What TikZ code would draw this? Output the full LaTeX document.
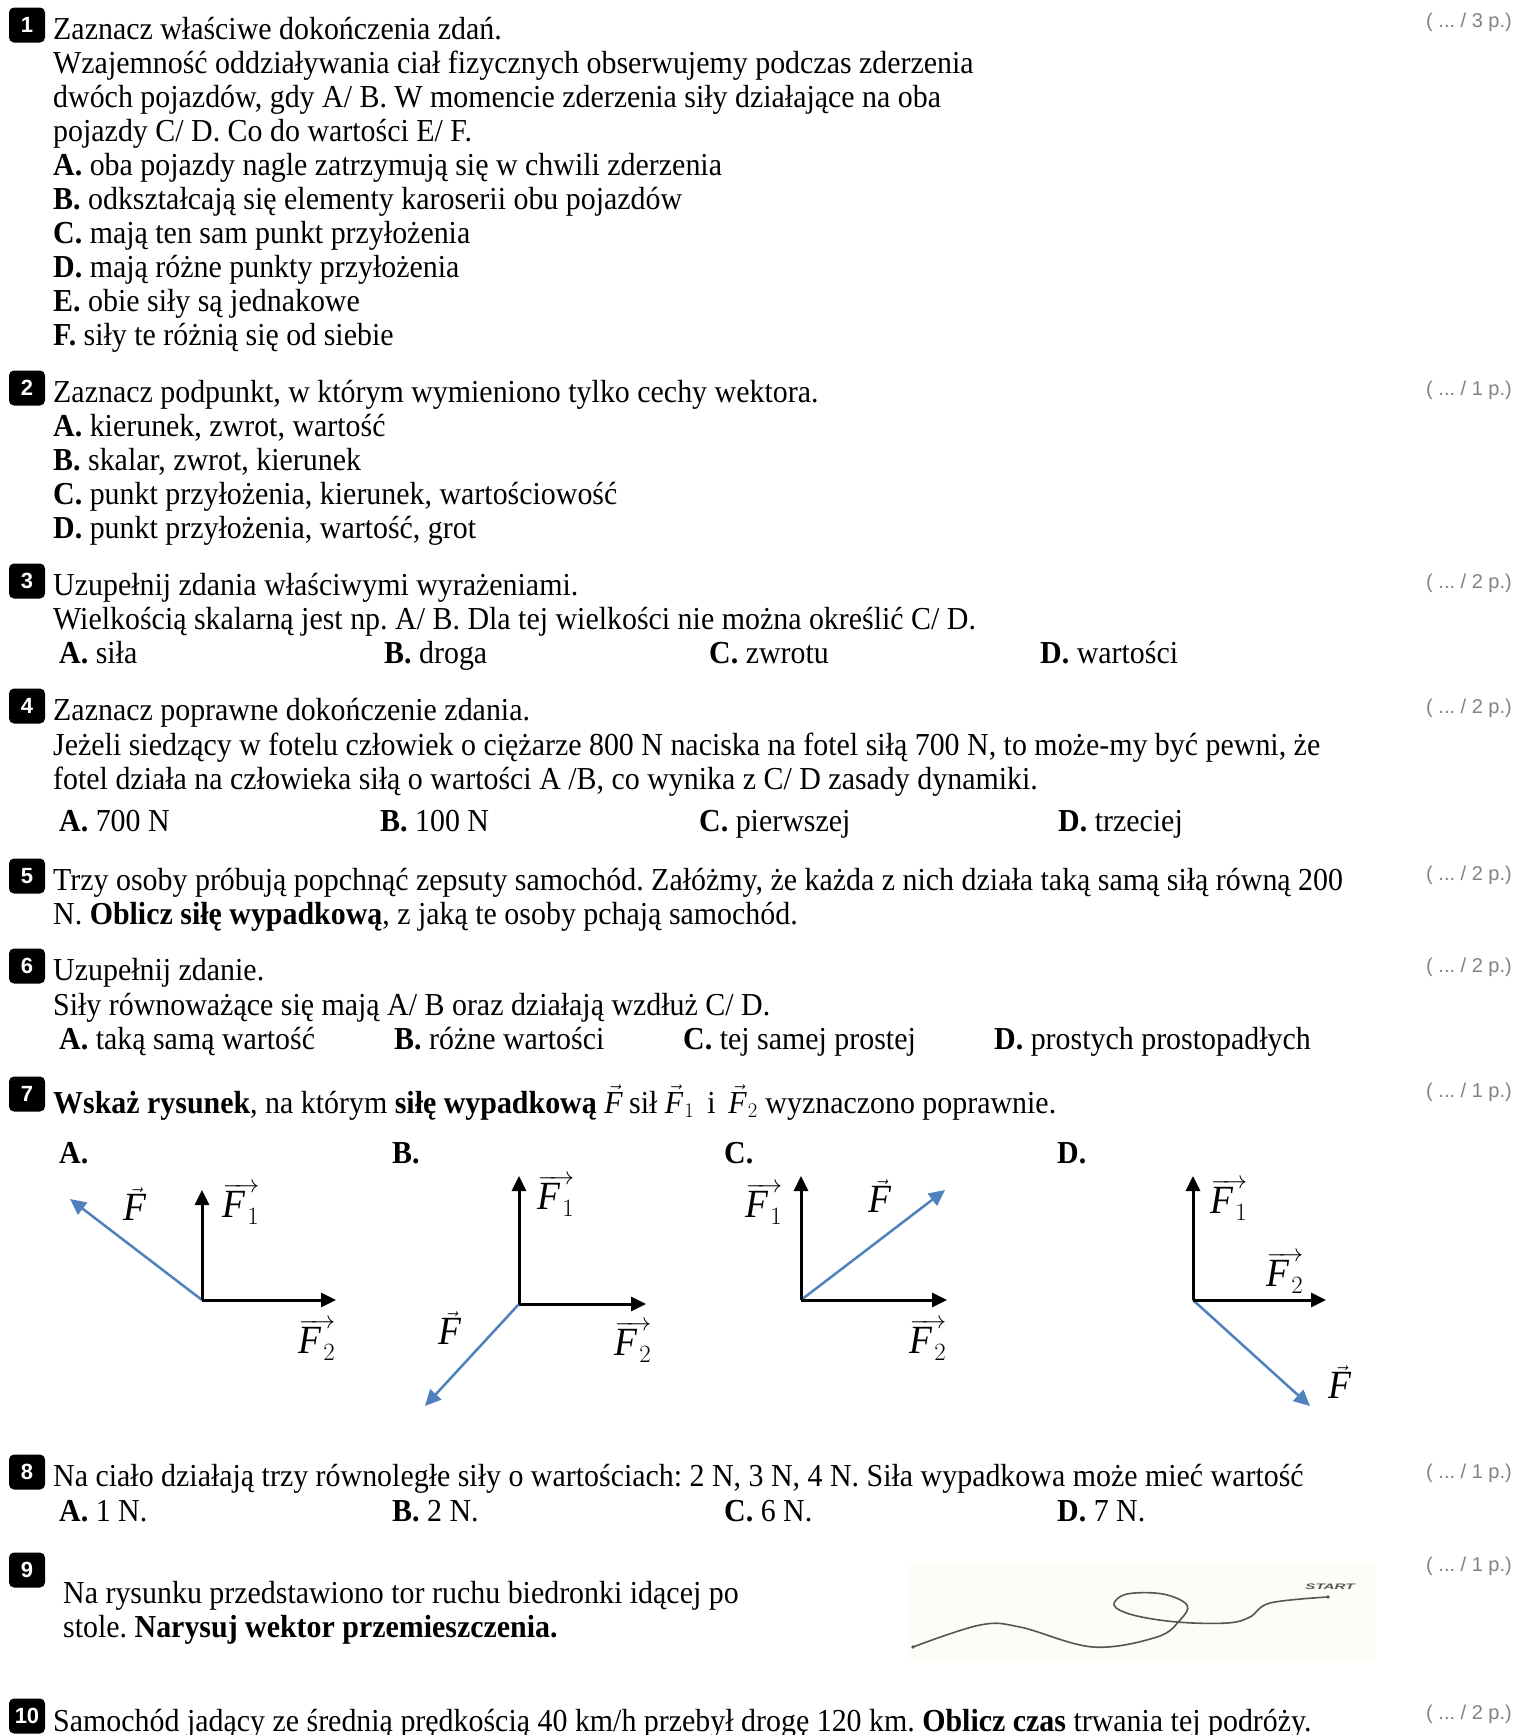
\documentclass[tikz,border=0pt]{standalone}
\usepackage{fontspec}
\setmainfont{Liberation Serif}[FakeStretch=0.935]
\newfontfamily\ptsfont{Liberation Sans}
\usetikzlibrary{arrows.meta}
\frenchspacing
\definecolor{vblue}{RGB}{79,129,189}
\definecolor{ptgray}{RGB}{130,130,130}
\definecolor{paper}{RGB}{253,253,247}
\definecolor{track}{RGB}{85,85,85}
\tikzset{
  txt/.style={anchor=base west, inner sep=0pt, font=\fontsize{32}{34}\selectfont},
  pts/.style={anchor=base east, inner sep=0pt, text=ptgray, font=\ptsfont\fontsize{20}{22}\selectfont},
  badge/.style={fill=black, rounded corners=5pt, minimum width=36pt, minimum height=35pt, inner sep=0pt, text=white, font=\ptsfont\bfseries\fontsize{22}{22}\selectfont},
  vblack/.style={line width=3pt, -{Triangle[length=15pt,width=14pt]}},
  vres/.style={line width=2.5pt, draw=vblue, -{Triangle[length=16pt,width=15pt,fill=vblue]}},
  vlab/.style={inner sep=0pt, font=\fontsize{40}{42}\selectfont},
}
\newcommand{\Fv}{\vec{\mathit{F}}}
\newcommand{\Fo}[1]{\overrightarrow{\mathit{F}_{#1}}}
\begin{document}
\frenchspacing
\begin{tikzpicture}[x=1pt,y=-1pt]
\useasboundingbox (0,0) rectangle (1516,1735);
\fill[white] (0,0) rectangle (1516,1735);

% ---------- Q1
\node[badge] (b1) at (27,25) {1};
\node[txt] (q1a) at (53,39) {Zaznacz właściwe dokończenia zdań.};
\node[txt] (q1b) at (53,73) {Wzajemność oddziaływania ciał fizycznych obserwujemy podczas zderzenia};
\node[txt] (q1c) at (53,107) {dwóch pojazdów, gdy A/ B. W momencie zderzenia siły działające na oba};
\node[txt] (q1d) at (53,141) {pojazdy C/ D. Co do wartości E/ F.};
\node[txt] (q1e) at (53,175) {\textbf{A.} oba pojazdy nagle zatrzymują się w chwili zderzenia};
\node[txt] (q1f) at (53,209) {\textbf{B.} odkształcają się elementy karoserii obu pojazdów};
\node[txt] (q1g) at (53,243) {\textbf{C.} mają ten sam punkt przyłożenia};
\node[txt] (q1h) at (53,277) {\textbf{D.} mają różne punkty przyłożenia};
\node[txt] (q1i) at (53,311) {\textbf{E.} obie siły są jednakowe};
\node[txt] (q1j) at (53,345) {\textbf{F.} siły te różnią się od siebie};
\node[pts] (p1) at (1512,27) {( ... / 3 p.)};

% ---------- Q2
\node[badge] (b2) at (27,388) {2};
\node[txt] (q2a) at (53,402) {Zaznacz podpunkt, w którym wymieniono tylko cechy wektora.};
\node[txt] (q2b) at (53,436) {\textbf{A.} kierunek, zwrot, wartość};
\node[txt] (q2c) at (53,470) {\textbf{B.} skalar, zwrot, kierunek};
\node[txt] (q2d) at (53,504) {\textbf{C.} punkt przyłożenia, kierunek, wartościowość};
\node[txt] (q2e) at (53,538) {\textbf{D.} punkt przyłożenia, wartość, grot};
\node[pts] (p2) at (1512,395) {( ... / 1 p.)};

% ---------- Q3
\node[badge] (b3) at (27,581) {3};
\node[txt] (q3a) at (53,595) {Uzupełnij zdania właściwymi wyrażeniami.};
\node[txt] (q3b) at (53,629) {Wielkością skalarną jest np. A/ B. Dla tej wielkości nie można określić C/ D.};
\node[txt] (q3A) at (59,663) {\textbf{A.} siła};
\node[txt] (q3B) at (384,663) {\textbf{B.} droga};
\node[txt] (q3C) at (709,663) {\textbf{C.} zwrotu};
\node[txt] (q3D) at (1040,663) {\textbf{D.} wartości};
\node[pts] (p3) at (1512,588) {( ... / 2 p.)};

% ---------- Q4
\node[badge] (b4) at (27,706) {4};
\node[txt] (q4a) at (53,720) {Zaznacz poprawne dokończenie zdania.};
\node[txt] (q4b) at (53,755) {Jeżeli siedzący w fotelu człowiek o ciężarze 800 N naciska na fotel siłą 700 N, to może-my być pewni, że};
\node[txt] (q4c) at (53,789) {fotel działa na człowieka siłą o wartości A /B, co wynika z C/ D zasady dynamiki.};
\node[txt] (q4A) at (59,831) {\textbf{A.} 700 N};
\node[txt] (q4B) at (380,831) {\textbf{B.} 100 N};
\node[txt] (q4C) at (699,831) {\textbf{C.} pierwszej};
\node[txt] (q4D) at (1058,831) {\textbf{D.} trzeciej};
\node[pts] (p4) at (1512,713) {( ... / 2 p.)};

% ---------- Q5
\node[badge] (b5) at (27,876) {5};
\node[txt] (q5a) at (53,890) {Trzy osoby próbują popchnąć zepsuty samochód. Załóżmy, że każda z nich działa taką samą siłą równą 200};
\node[txt] (q5b) at (53,924) {N. \textbf{Oblicz siłę wypadkową}, z jaką te osoby pchają samochód.};
\node[pts] (p5) at (1512,880) {( ... / 2 p.)};

% ---------- Q6
\node[badge] (b6) at (27,966) {6};
\node[txt] (q6a) at (53,980) {Uzupełnij zdanie.};
\node[txt] (q6b) at (53,1015) {Siły równoważące się mają A/ B oraz działają wzdłuż C/ D.};
\node[txt] (q6A) at (59,1049) {\textbf{A.} taką samą wartość};
\node[txt] (q6B) at (394,1049) {\textbf{B.} różne wartości};
\node[txt] (q6C) at (683,1049) {\textbf{C.} tej samej prostej};
\node[txt] (q6D) at (994,1049) {\textbf{D.} prostych prostopadłych};
\node[pts] (p6) at (1512,972) {( ... / 2 p.)};

% ---------- Q7
\node[badge] (b7) at (27,1094) {7};
\node[txt] (q7a) at (53,1113) {\textbf{Wskaż rysunek}, na którym \textbf{siłę wypadkową} $\Fv$\,sił $\Fv_1$\, i\, $\Fv_2$ wyznaczono poprawnie.};
\node[pts] (p7) at (1512,1097) {( ... / 1 p.)};
\node[txt] (q7A) at (59,1163) {\textbf{A.}};
\node[txt] (q7B) at (392,1163) {\textbf{B.}};
\node[txt] (q7C) at (724,1163) {\textbf{C.}};
\node[txt] (q7D) at (1057,1163) {\textbf{D.}};

% diagram A
\coordinate (oA) at (202,1300);
\coordinate (f1A) at (202,1190);
\coordinate (f2A) at (336,1300);
\coordinate (fA) at (70,1199);
\draw[vres] (oA) -- (fA);
\draw[vblack] (oA) -- (f1A);
\draw[vblack] (oA) -- (f2A);
\node[vlab] (lfA) at (136,1204) {$\Fv$};
\node[vlab] (lf1A) at (241,1204) {$\Fo{1}$};
\node[vlab] (lf2A) at (317,1340) {$\Fo{2}$};

% diagram B
\coordinate (oB) at (519,1304);
\coordinate (f1B) at (519,1176);
\coordinate (f2B) at (646,1304);
\coordinate (fB) at (425,1406);
\draw[vres] (oB) -- (fB);
\draw[vblack] (oB) -- (f1B);
\draw[vblack] (oB) -- (f2B);
\node[vlab] (lf1B) at (556,1196) {$\Fo{1}$};
\node[vlab] (lfB) at (451,1328) {$\Fv$};
\node[vlab] (lf2B) at (633,1342) {$\Fo{2}$};

% diagram C
\coordinate (oC) at (801,1300);
\coordinate (f1C) at (801,1176);
\coordinate (f2C) at (947,1300);
\coordinate (fC) at (945,1190);
\draw[vres] (oC) -- (fC);
\draw[vblack] (oC) -- (f1C);
\draw[vblack] (oC) -- (f2C);
\node[vlab] (lf1C) at (764,1204) {$\Fo{1}$};
\node[vlab] (lfC) at (881,1196) {$\Fv$};
\node[vlab] (lf2C) at (928,1340) {$\Fo{2}$};

% diagram D
\coordinate (oD) at (1193,1300);
\coordinate (f1D) at (1193,1176);
\coordinate (f2D) at (1326,1300);
\coordinate (fD) at (1310,1406);
\draw[vres] (oD) -- (fD);
\draw[vblack] (oD) -- (f1D);
\draw[vblack] (oD) -- (f2D);
\node[vlab] (lf1D) at (1229,1200) {$\Fo{1}$};
\node[vlab] (lf2D) at (1285,1273) {$\Fo{2}$};
\node[vlab] (lfD) at (1341,1382) {$\Fv$};

% ---------- Q8
\node[badge] (b8) at (27,1472) {8};
\node[txt] (q8a) at (53,1486) {Na ciało działają trzy równoległe siły o wartościach: 2 N, 3 N, 4 N. Siła wypadkowa może mieć wartość};
\node[txt] (q8A) at (59,1521) {\textbf{A.} 1 N.};
\node[txt] (q8B) at (392,1521) {\textbf{B.} 2 N.};
\node[txt] (q8C) at (724,1521) {\textbf{C.} 6 N.};
\node[txt] (q8D) at (1057,1521) {\textbf{D.} 7 N.};
\node[pts] (p8) at (1512,1478) {( ... / 1 p.)};

% ---------- Q9
\node[badge] (b9) at (27,1570) {9};
\node[txt] (q9a) at (63,1603) {Na rysunku przedstawiono tor ruchu biedronki idącej po};
\node[txt] (q9b) at (63,1637) {stole. \textbf{Narysuj wektor przemieszczenia.}};
\node[pts] (p9) at (1512,1571) {( ... / 1 p.)};
\fill[paper] (907,1563) rectangle (1375,1660);
\draw[track, line width=1.6pt, line cap=round] plot[smooth, tension=0.6] coordinates {
  (913,1647) (980,1625) (1020,1627) (1093,1647) (1157,1637) (1180,1620) (1187,1605)
  (1163,1594) (1127,1594) (1114,1605) (1133,1615) (1177,1622) (1227,1623)
  (1250,1617) (1270,1603) (1327,1597)};
\fill[track] (913,1647) circle (1.8);
\fill[track] (1328,1597) circle (1.8);
\node[inner sep=0pt, text=track, font=\ptsfont\bfseries\itshape\fontsize{8}{8}\selectfont] (start) at (1330,1587) {\scalebox{1.9}[1]{START}};

% ---------- Q10
\node[badge] (b10) at (27,1716) {10};
\node[txt] (q10a) at (53,1731) {Samochód jadący ze średnią prędkością 40 km/h przebył drogę 120 km. \textbf{Oblicz czas} trwania tej podróży.};
\node[pts] (p10) at (1512,1719) {( ... / 2 p.)};
\end{tikzpicture}
\end{document}
